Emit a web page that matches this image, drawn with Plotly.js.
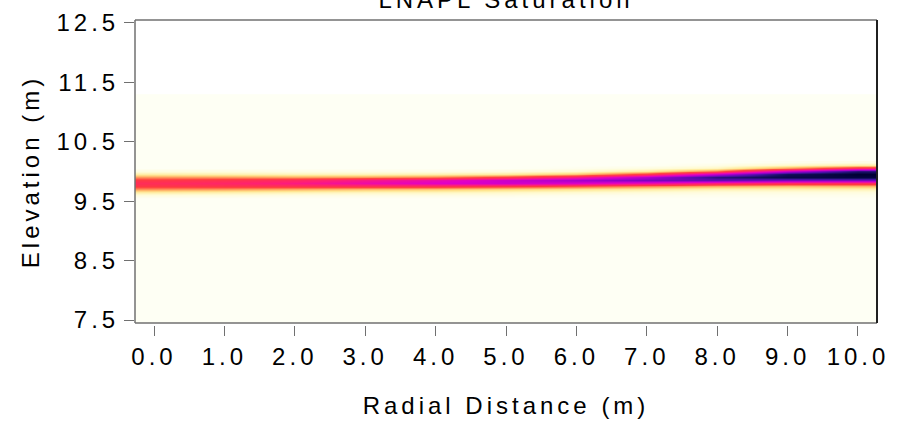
<!DOCTYPE html>
<html>
<head>
<meta charset="utf-8">
<script src="https://cdn.plot.ly/plotly-3.0.1.min.js"></script>
<style>
  html, body { margin: 0; padding: 0; background: #ffffff; }
  #chart { width: 904px; height: 428px; }
  #chart .main-svg text { letter-spacing: 4px; }
</style>
</head>
<body>
<div id="chart"></div>
<script>
// ---- data ----
const radialDistance = [0, 1, 2, 3, 4, 5, 6, 7, 8, 9, 10];
const elevation = [9.55, 9.60, 9.65, 9.70, 9.75, 9.80, 9.85, 9.90, 9.95, 10.00, 10.05, 10.10, 10.15];
// saturation profile (bottom -> top, matching `elevation`) for each radial column
const satX0  = [0, .03, .10, .22, .32, .36, .32, .22, .10, .03, 0, 0, 0];
const satX1  = [0, .03, .09, .21, .33, .39, .34, .22, .09, .03, 0, 0, 0];
const satX2  = [0, .02, .08, .19, .34, .44, .38, .21, .08, .02, 0, 0, 0];
const satX3  = [0, .02, .07, .17, .35, .50, .45, .22, .08, .02, 0, 0, 0];
const satX4  = [0, .02, .07, .16, .35, .55, .51, .25, .09, .02, 0, 0, 0];
const satX5  = [0, .02, .06, .14, .32, .58, .59, .32, .11, .03, 0, 0, 0];
const satX6  = [0, .01, .05, .12, .28, .56, .66, .44, .17, .05, .01, 0, 0];
const satX7  = [0, .01, .04, .10, .23, .50, .73, .64, .33, .11, .03, 0, 0];
const satX8  = [0, .01, .03, .08, .19, .42, .76, .86, .61, .26, .07, .02, 0];
const satX9  = [0, .01, .03, .08, .17, .37, .72, .95, .92, .60, .22, .06, .01];
const satX10 = [0, .01, .03, .08, .18, .36, .72, .97, 1.0, .87, .38, .10, .02];
const columns = [satX0, satX1, satX2, satX3, satX4, satX5, satX6, satX7, satX8, satX9, satX10];
// extent of the modelled domain (background, zero saturation)
const domainX = [-0.27, 10.27];
const domainY = [7.45, 11.3];
const xTicks = [0, 1, 2, 3, 4, 5, 6, 7, 8, 9, 10];
const yTicks = [7.5, 8.5, 9.5, 10.5, 11.5, 12.5];

// build z (rows = elevation, cols = radial distance)
const z = elevation.map((_, r) => columns.map(col => col[r]));

const colorscale = [
  [0.00, '#FEFFF4'],
  [0.05, '#FFFBD2'],
  [0.12, '#FFE892'],
  [0.20, '#FFAA62'],
  [0.30, '#FF3C3C'],
  [0.42, '#FF1E78'],
  [0.55, '#E000C8'],
  [0.68, '#9A00CC'],
  [0.80, '#4A10A8'],
  [0.90, '#141060'],
  [1.00, '#000033']
];

const fontFam = '"Liberation Sans", Arial, sans-serif';
const fsz = 24;

const traces = [
  {
    type: 'heatmap',
    x: domainX, y: domainY, z: [[0]],
    zmin: 0, zmax: 1, colorscale: colorscale,
    showscale: false, hoverinfo: 'skip'
  },
  {
    type: 'heatmap',
    x: radialDistance, y: elevation, z: z,
    zmin: 0, zmax: 1, colorscale: colorscale,
    zsmooth: 'best', showscale: false, hoverinfo: 'skip'
  }
];

const axisLine = '#707070';
const layout = {
  width: 904, height: 428,
  margin: { l: 134.5, r: 27.3, t: 20, b: 103, pad: 0 },
  paper_bgcolor: '#ffffff',
  plot_bgcolor: '#ffffff',
  font: { family: fontFam, size: fsz, color: '#000000' },
  title: {
    text: 'LNAPL Saturation',
    font: { family: fontFam, size: fsz, color: '#000000' },
    x: 0.5, xref: 'paper', xanchor: 'center',
    y: 1, yref: 'container', yanchor: 'middle'
  },
  xaxis: {
    range: [-0.27, 10.27],
    anchor: 'free', position: 0,
    tickmode: 'array', tickvals: xTicks,
    ticktext: xTicks.map(v => v.toFixed(1)),
    ticks: 'outside', ticklen: 10, tickwidth: 1, tickcolor: axisLine,
    showline: false, showgrid: false, zeroline: false,
    tickfont: { family: fontFam, size: fsz, color: '#000000' },
    title: { text: 'Radial Distance (m)', font: { family: fontFam, size: fsz, color: '#000000' }, standoff: 28 }
  },
  yaxis: {
    range: [7.45, 12.55],
    domain: [2 / 305, 1],
    tickmode: 'array', tickvals: yTicks,
    ticktext: yTicks.map(v => v.toFixed(1)),
    ticks: 'outside', ticklen: 10, tickwidth: 1, tickcolor: axisLine,
    showline: false, showgrid: false, zeroline: false,
    tickfont: { family: fontFam, size: fsz, color: '#000000' },
    title: { text: 'Elevation (m)', font: { family: fontFam, size: fsz, color: '#000000' }, standoff: 26 }
  },
  shapes: [
    { type: 'line', xref: 'x domain', yref: 'y domain', x0: 0, x1: 0, y0: 0, y1: 1, line: { color: axisLine, width: 1.5 } },
    { type: 'line', xref: 'x domain', yref: 'y domain', x0: 0, x1: 1, y0: 1, y1: 1, line: { color: axisLine, width: 1.5 } },
    { type: 'line', xref: 'x domain', yref: 'y domain', x0: 0, x1: 1, y0: 0, y1: 0, line: { color: axisLine, width: 1.5 } },
    { type: 'line', xref: 'x domain', yref: 'y domain', x0: 1, x1: 1, y0: 0, y1: 1, line: { color: '#202020', width: 2 } }
  ]
};

Plotly.newPlot('chart', traces, layout, { displayModeBar: false, staticPlot: true });
</script>
</body>
</html>
